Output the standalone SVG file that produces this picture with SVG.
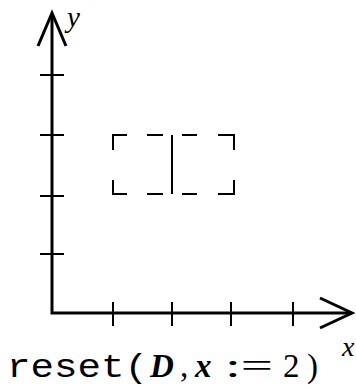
<svg xmlns="http://www.w3.org/2000/svg" width="356" height="387" viewBox="0 0 356 387">
<style>
.axis{stroke:#000;stroke-width:3;fill:none}
.tick{stroke:#000;stroke-width:2;fill:none}
.box{stroke:#000;stroke-width:2;fill:none}
.ser{font-family:'Liberation Serif','Times New Roman',Tinos,'DejaVu Serif',serif;fill:#000}
.it{font-style:italic}
.mono{font-family:'Liberation Mono','Courier New',Cousine,'DejaVu Sans Mono',monospace;fill:#000}
</style>
<rect width="356" height="387" fill="#fff"/>
<g id="axes">
<path class="axis" d="M52,14 V313 H350"/>
<path class="axis" d="M38,46 L52,13 L66,46"/>
<path class="axis" d="M320,298 L352,313 L320,328"/>
</g>
<g id="ticks">
<path class="tick" d="M40,75 H64 M40,135 H64 M40,196 H64 M40,254 H64"/>
<path class="tick" d="M113,302 V326 M172,302 V326 M231,302 V326 M293,302 V326"/>
</g>
<g id="region">
<path class="box" d="M113,150 V135 H127 M147,135 H163 M182,135 H197 M218,135 H234 V150 M234,180 V194 H218 M197,194 H182 M163,194 H147 M127,194 H113 V180"/>
<path class="box" d="M172,135 V194"/>
</g>
<g id="labels">
<text class="ser it" x="67" y="27" font-size="29" font-family="Liberation Serif, serif">y</text>
<text class="ser it" x="342" y="356" font-size="28" font-family="Liberation Serif, serif">x</text>
<text class="mono" x="7" y="377" font-size="33" textLength="141" lengthAdjust="spacingAndGlyphs" font-family="Liberation Mono, monospace">reset(</text>
<text class="ser it" x="150" y="377" font-size="33" font-weight="bold" font-family="Liberation Serif, serif">D</text>
<text class="ser" x="180" y="377" font-size="33" font-family="Liberation Serif, serif">,</text>
<text class="ser it" x="195" y="377" font-size="33" font-weight="bold" font-family="Liberation Serif, serif">x</text>
<text class="ser" x="225" y="377" font-size="33" font-family="Liberation Serif, serif" textLength="48" lengthAdjust="spacingAndGlyphs">:=</text>
<text class="ser" x="283" y="377" font-size="33" font-family="Liberation Serif, serif">2</text>
<text class="ser" x="307" y="377" font-size="33" font-family="Liberation Serif, serif">)</text>
</g>
</svg>
